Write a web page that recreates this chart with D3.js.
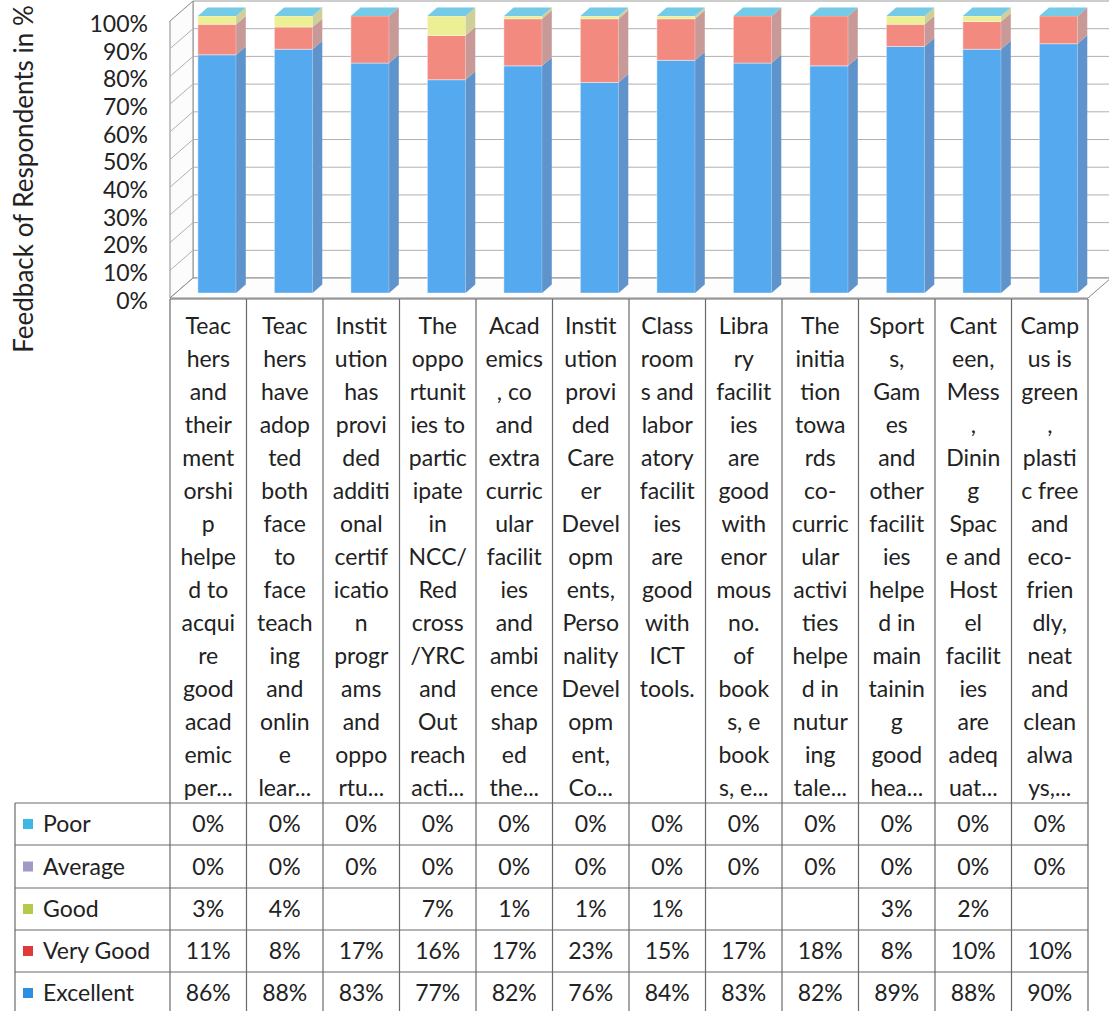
<!DOCTYPE html>
<html>
<head>
<meta charset="utf-8">
<script src="https://cdn.jsdelivr.net/npm/d3@7"></script>
<style>
  body { margin: 0; background: #fff; }
  svg { display: block; }
  text { font-family: Lato, "Noto Sans", sans-serif; fill: #222; }
</style>
</head>
<body>
<svg id="chart" width="1109" height="1011"></svg>
<script>
// category labels, wrapped the way the table shows them
const categoryLines = [
  ["Teac","hers","and","their","ment","orshi","p","helpe","d to","acqui","re","good","acad","emic","per..."],
  ["Teac","hers","have","adop","ted","both","face","to","face","teach","ing","and","onlin","e","lear..."],
  ["Instit","ution","has","provi","ded","additi","onal","certif","icatio","n","progr","ams","and","oppo","rtu..."],
  ["The","oppo","rtunit","ies to","partic","ipate","in","NCC/","Red","cross","/YRC","and","Out","reach","acti..."],
  ["Acad","emics",", co","and","extra","curric","ular","facilit","ies","and","ambi","ence","shap","ed","the..."],
  ["Instit","ution","provi","ded","Care","er","Devel","opm","ents,","Perso","nality","Devel","opm","ent,","Co..."],
  ["Class","room","s and","labor","atory","facilit","ies","are","good","with","ICT","tools."],
  ["Libra","ry","facilit","ies","are","good","with","enor","mous","no.","of","book","s, e","book","s, e..."],
  ["The","initia","tion","towa","rds","co-","curric","ular","activi","ties","helpe","d in","nutur","ing","tale..."],
  ["Sport","s,","Gam","es","and","other","facilit","ies","helpe","d in","main","tainin","g","good","hea..."],
  ["Cant","een,","Mess",",","Dinin","g","Spac","e and","Host","el","facilit","ies","are","adeq","uat..."],
  ["Camp","us is","green",",","plasti","c free","and","eco-","frien","dly,","neat","and","clean","alwa","ys,..."]
];

const series = ["Excellent", "Very Good", "Good", "Average", "Poor"];
const excellent = [86, 88, 83, 77, 82, 76, 84, 83, 82, 89, 88, 90];
const veryGood  = [11, 8, 17, 16, 17, 23, 15, 17, 18, 8, 10, 10];
const good      = [3, 4, null, 7, 1, 1, 1, null, null, 3, 2, null];
const average   = [0, 0, 0, 0, 0, 0, 0, 0, 0, 0, 0, 0];
const poor      = [0, 0, 0, 0, 0, 0, 0, 0, 0, 0, 0, 0];
const yTicks = [0, 10, 20, 30, 40, 50, 60, 70, 80, 90, 100];

const values = {"Excellent": excellent, "Very Good": veryGood, "Good": good, "Average": average, "Poor": poor};
const tableOrder = ["Poor", "Average", "Good", "Very Good", "Excellent"];

const frontColor = {"Excellent": "#55a9ef", "Very Good": "#f38a80", "Good": "#ecef93", "Average": "#b7b0d6", "Poor": "#74cbe8"};
const sideColor  = {"Excellent": "#5f93cc", "Very Good": "#c79a98", "Good": "#cfd098", "Average": "#9a94b8", "Poor": "#62a9c4"};
const keyColor   = {"Excellent": "#2f8de2", "Very Good": "#e0393a", "Good": "#b6c94c", "Average": "#a09bc6", "Poor": "#3db8e6"};

const svg = d3.select("#chart");
const plot = {left: 170, right: 1088, bottom: 298, top: 21};
const depth = {dx: 23, dy: -20};
const zFront = 0.25, zBack = 0.67;

const x = d3.scaleBand().domain(d3.range(categoryLines.length))
  .range([plot.left + 3, plot.right + 3]).paddingInner(0.5).paddingOuter(0.25);
const y = d3.scaleLinear().domain([0, 100]).range([plot.bottom, plot.top]);
const col = d3.scaleLinear().domain([0, categoryLines.length]).range([plot.left, plot.right]);

const P = (px, v, z) => [px + z * depth.dx, y(v) + z * depth.dy];
const poly = pts => "M" + pts.map(p => p.join(",")).join("L") + "Z";

// walls and floor
const walls = svg.append("g");
walls.append("path").attr("d", poly([P(plot.left,0,1), P(plot.right,0,1), P(plot.right,100,1), P(plot.left,100,1)]))
  .attr("fill", "#fff").attr("stroke", "#9a9a9a");
walls.append("path").attr("d", poly([P(plot.left,0,0), P(plot.left,0,1), P(plot.left,100,1), P(plot.left,100,0)]))
  .attr("fill", "#fcfcfc").attr("stroke", "#8a8a8a");
walls.append("path").attr("d", poly([P(plot.left,0,0), P(plot.right,0,0), P(plot.right,0,1), P(plot.left,0,1)]))
  .attr("fill", "#fdfdfd").attr("stroke", "#8a8a8a");

walls.selectAll(".grid").data(yTicks.filter(v => v > 0 && v < 100)).join("path")
  .attr("d", v => "M" + [P(plot.left,v,0), P(plot.left,v,1), P(plot.right,v,1)].map(p => p.join(",")).join("L"))
  .attr("fill", "none").attr("stroke", "#b0b0b0");

// stacked 3D columns
const rows = categoryLines.map((c, i) => {
  const r = {i};
  series.forEach(s => r[s] = values[s][i] || 0);
  return r;
});
const stacked = d3.stack().keys(series)(rows);

const bars = svg.append("g");
stacked.forEach(layer => {
  const key = layer.key;
  layer.forEach(d => {
    if (d[1] <= d[0]) return;
    const x0 = x(d.data.i), x1 = x0 + x.bandwidth();
    bars.append("path")
      .attr("d", poly([P(x0,d[0],zFront), P(x1,d[0],zFront), P(x1,d[1],zFront), P(x0,d[1],zFront)]))
      .attr("fill", frontColor[key]).attr("stroke", "rgba(255,255,255,0.5)").attr("stroke-width", 0.8);
    bars.append("path")
      .attr("d", poly([P(x1,d[0],zFront), P(x1,d[0],zBack), P(x1,d[1],zBack), P(x1,d[1],zFront)]))
      .attr("fill", sideColor[key]);
  });
});
// top faces
const topLayer = stacked[stacked.length - 1];
bars.selectAll(".top").data(topLayer).join("path")
  .attr("d", d => {
    const x0 = x(d.data.i), x1 = x0 + x.bandwidth();
    return poly([P(x0,d[1],zFront), P(x1,d[1],zFront), P(x1,d[1],zBack), P(x0,d[1],zBack)]);
  })
  .attr("fill", frontColor["Poor"]);

// value axis
const axis = svg.append("g").attr("transform", "translate(148,3)")
  .call(d3.axisLeft(y).tickValues(yTicks).tickFormat(d => d + "%").tickSize(0).tickPadding(0));
axis.select(".domain").remove();
axis.selectAll("text").style("font-family", "Lato, 'Noto Sans', sans-serif").style("font-size", "23px").attr("fill", "#222");

svg.append("text")
  .attr("transform", "translate(33,179) rotate(-90)")
  .attr("text-anchor", "middle")
  .style("font-size", "26px")
  .text("Feedback of Respondents in %");

// data table
const rowEdges = [299, 803, 845, 888, 930, 972, 1014];
const table = svg.append("g").attr("stroke", "#6a6a6a").attr("stroke-width", 1.2);
table.append("line").attr("x1", plot.left).attr("x2", plot.right).attr("y1", rowEdges[0]).attr("y2", rowEdges[0]);
rowEdges.slice(1).forEach(yy => {
  table.append("line").attr("x1", 15).attr("x2", plot.right).attr("y1", yy).attr("y2", yy);
});
d3.range(categoryLines.length + 1).forEach(k => {
  table.append("line").attr("x1", col(k)).attr("x2", col(k)).attr("y1", rowEdges[0]).attr("y2", rowEdges[6]);
});
table.append("line").attr("x1", 15).attr("x2", 15).attr("y1", rowEdges[1]).attr("y2", rowEdges[6]);

const labels = svg.append("g").style("font-size", "23px").attr("text-anchor", "middle");
categoryLines.forEach((lines, i) => {
  const t = labels.append("text").attr("x", (col(i) + col(i + 1)) / 2);
  lines.forEach((ln, j) => t.append("tspan").attr("x", (col(i) + col(i + 1)) / 2).attr("y", 334 + j * 33).text(ln));
});

tableOrder.forEach((s, r) => {
  const cy = (rowEdges[r + 1] + rowEdges[r + 2]) / 2;
  svg.append("rect").attr("x", 23).attr("y", cy - 5).attr("width", 10).attr("height", 10)
    .attr("fill", keyColor[s]);
  const lt = svg.append("text").attr("x", 43).attr("y", cy + 8).style("font-size", "23px").text(s);
  const w = lt.node().getComputedTextLength();
  if (43 + w > plot.left - 4) lt.attr("x", plot.left - 4 - w);
  values[s].forEach((v, i) => {
    if (v === null) return;
    svg.append("text").attr("x", (col(i) + col(i + 1)) / 2).attr("y", cy + 8)
      .attr("text-anchor", "middle").style("font-size", "23px").text(v + "%");
  });
});
</script>
</body>
</html>
